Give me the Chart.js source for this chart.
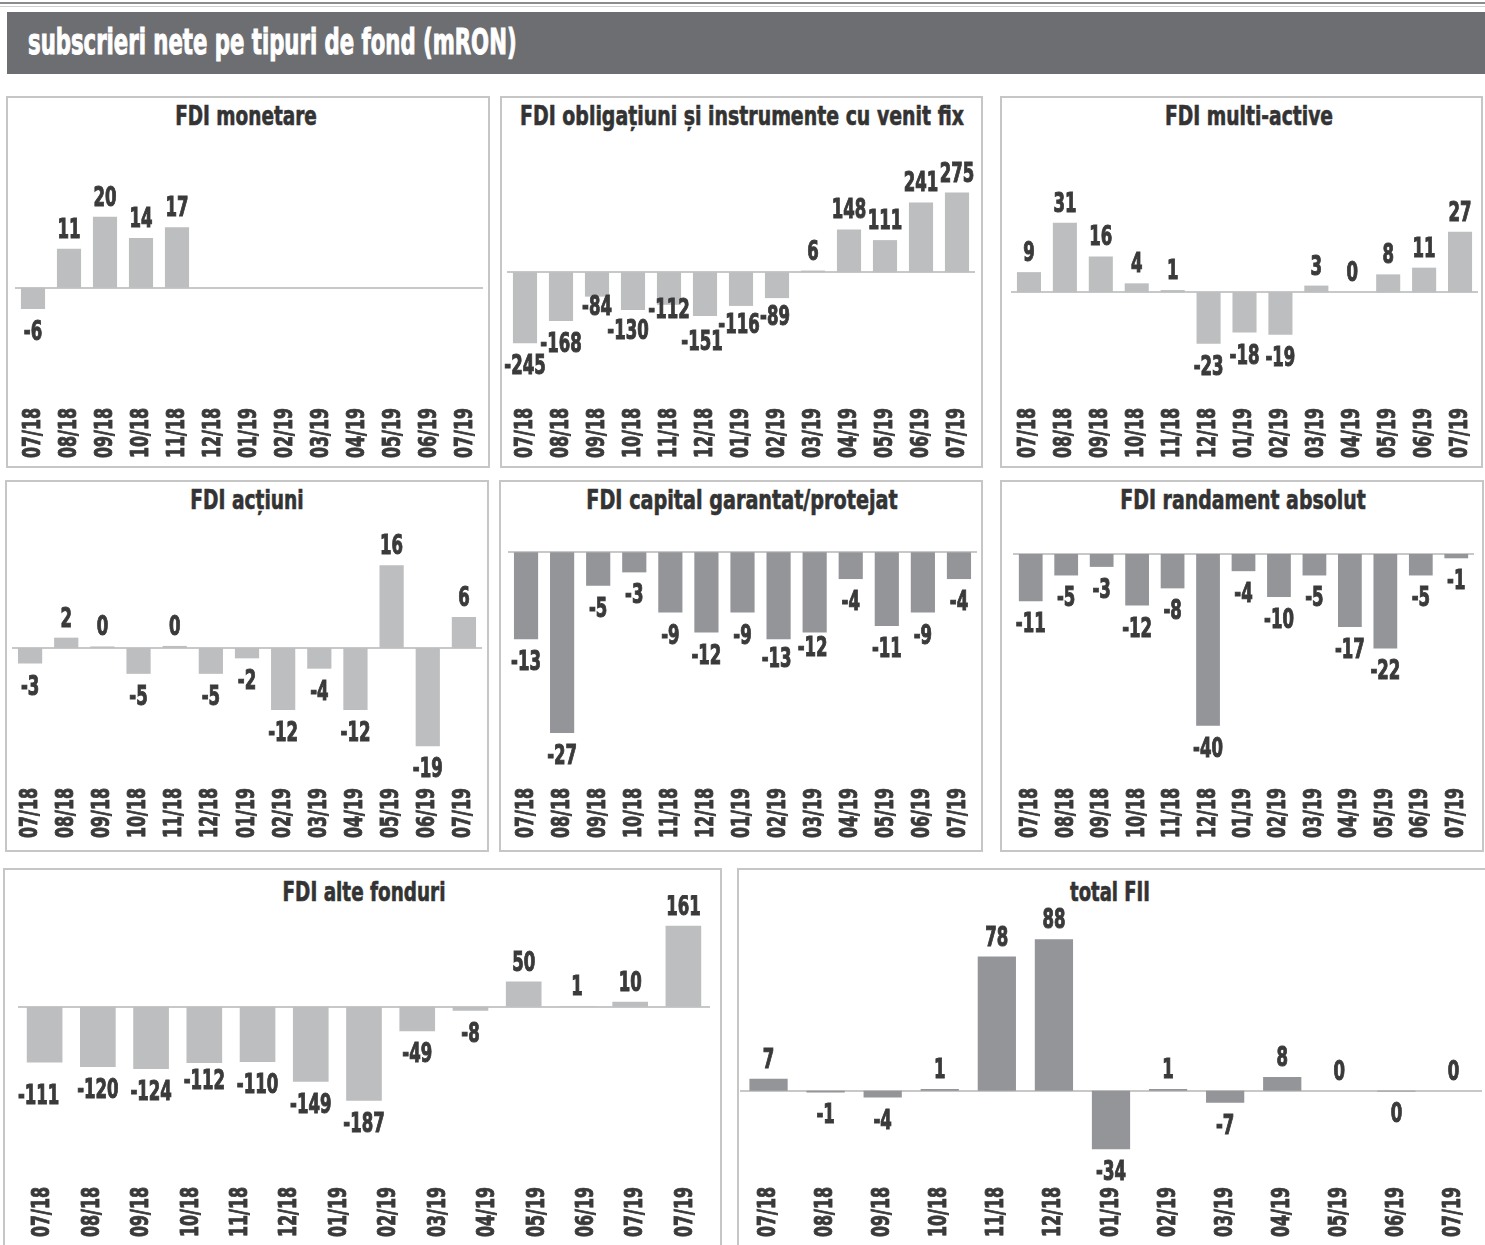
<!DOCTYPE html>
<html lang="ro">
<head>
<meta charset="utf-8">
<title>subscrieri nete pe tipuri de fond (mRON)</title>
<script src="https://cdn.jsdelivr.net/npm/chart.js@4.4.1/dist/chart.umd.min.js"></script>
<style>
    html, body { margin: 0; padding: 0; width: 1485px; height: 1245px; overflow: hidden; background: #fff; }
    body { position: relative; font-family: 'Liberation Sans Narrow', 'DejaVu Sans Condensed', 'Liberation Sans', sans-serif; }
    .rule1 { position: absolute; left: 0; width: 1485px; top: 2px; border-top: 2px solid #8c8c8c; }
    .rule2 { position: absolute; left: 0; width: 1485px; top: 6px; border-top: 1px solid #cfcfcf; }
    .band { position: absolute; left: 7px; top: 12px; width: 1478px; height: 62px; background: #6d6e71; }
    .band span {
        position: absolute; left: 21px; top: 12px;
        color: #fff; font-weight: bold; font-size: 36px; line-height: 36px;
        -webkit-text-stroke: 1px #fff;
        white-space: nowrap; transform-origin: 0 50%;
    }
    .panel { position: absolute; box-sizing: border-box; border: 2px solid #c6c6c6; background: #fff; }
    .ptitle {
        position: absolute; white-space: nowrap; font-weight: bold;
        font-size: 26px; line-height: 26px; color: #333;
        -webkit-text-stroke: 0.6px #333;
        transform-origin: 50% 50%;
    }
    canvas { position: absolute; }
</style>
</head>
<body>
<div class="rule1"></div>
<div class="rule2"></div>
<div class="band"><span id="headline">subscrieri nete pe tipuri de fond (mRON)</span></div>

<script>
// ===== DATA =====
const months = ['07/18','08/18','09/18','10/18','11/18','12/18','01/19','02/19','03/19','04/19','05/19','06/19','07/19'];
// the "alte fonduri" panel in the source prints 07/19 twice under 13 bars
const monthsAlte = ['07/18','08/18','09/18','10/18','11/18','12/18','01/19','02/19','03/19','04/19','05/19','06/19','07/19','07/19'];

const fdiMonetare    = [-6, 11, 20, 14, 17, null, null, null, null, null, null, null, null];
const fdiObligatiuni = [-245, -168, -84, -130, -112, -151, -116, -89, 6, 148, 111, 241, 275];
const fdiMultiActive = [9, 31, 16, 4, 1, -23, -18, -19, 3, 0, 8, 11, 27];
const fdiActiuni     = [-3, 2, 0.3, -5, 0.4, -5, -2, -12, -4, -12, 16, -19, 6];
const fdiCapital     = [-13, -27, -5, -3, -9, -12, -9, -13, -12, -4, -11, -9, -4];
const fdiRandament   = [-11, -5, -3, -12, -8, -40, -4, -10, -5, -17, -22, -5, -1];
const fdiAlte        = [-111, -120, -124, -112, -110, -149, -187, -49, -8, 50, 1, 10, 161];
const totalFii       = [7, -1, -4, 1, 78, 88, -34, 1, -7, 8, 0, -0.4, 0];

// ===== STYLE =====
const FONT = "'Liberation Sans Narrow', 'DejaVu Sans Condensed', 'Liberation Sans', sans-serif";
const LIGHT = '#bcbec0';
const DARK  = '#939598';
const INK   = '#3a3a3a';
const TICK_PAD = 4;
const AXIS_H = 60;
const SIDE = 14;          // extra canvas room left/right for labels
const TICK_LEN = 50;      // length of a rotated "07/18" in the source
const VAL_2DIGIT = 23;    // width of a two digit value label in the source

// ===== PANELS (layout in page pixels) =====
// nudge: per bar index [dx, dy] for value labels that were moved by hand in the source
const panels = [
    { title: 'FDI monetare', titleX: 246, titleY: 116, titleW: 142,
      box: [6, 96, 490, 468], plotL: 15, plotR: 483, canvasTop: 140, labelTop: 408,
      zeroY: 287.7, ppu: 3.55, values: fdiMonetare, ticks: months, color: LIGHT },
    { title: 'FDI obligațiuni și instrumente cu venit fix', titleX: 741.5, titleY: 116, titleW: 444,
      box: [500, 96, 983, 468], plotL: 507, plotR: 975, canvasTop: 140, labelTop: 408,
      zeroY: 272.3, ppu: 0.29, values: fdiObligatiuni, ticks: months, color: LIGHT,
      nudge: { 2: [0, -13], 3: [-5, -2], 4: [0, -18], 5: [-3, 3], 6: [-2, -4], 7: [-2, -4] } },
    { title: 'FDI multi-active', titleX: 1249, titleY: 116, titleW: 168,
      box: [1000, 96, 1483, 468], plotL: 1011, plotR: 1478, canvasTop: 140, labelTop: 408,
      zeroY: 292.3, ppu: 2.24, values: fdiMultiActive, ticks: months, color: LIGHT },
    { title: 'FDI acțiuni', titleX: 246.5, titleY: 500, titleW: 113,
      box: [5, 480, 489, 852], plotL: 12, plotR: 482, canvasTop: 522, labelTop: 788,
      zeroY: 648, ppu: 5.17, values: fdiActiuni, ticks: months, color: LIGHT },
    { title: 'FDI capital garantat/protejat', titleX: 742, titleY: 500, titleW: 311,
      box: [499, 480, 983, 852], plotL: 508, plotR: 977, canvasTop: 522, labelTop: 788,
      zeroY: 552.3, ppu: 6.69, values: fdiCapital, ticks: months, color: DARK,
      nudge: { 7: [-2, -3], 8: [-2, -8] } },
    { title: 'FDI randament absolut', titleX: 1242.5, titleY: 500, titleW: 245,
      box: [1000, 480, 1484, 852], plotL: 1013, plotR: 1474, canvasTop: 522, labelTop: 788,
      zeroY: 554, ppu: 4.295, values: fdiRandament, ticks: months, color: DARK },
    { title: 'FDI alte fonduri', titleX: 363.5, titleY: 892, titleW: 163,
      box: [3, 868, 722, 1260], plotL: 18, plotR: 710, canvasTop: 895, labelTop: 1187,
      zeroY: 1006.7, ppu: 0.503, values: fdiAlte, ticks: monthsAlte, color: LIGHT,
      nudge: { 0: [-6, 10], 3: [0, -5] } },
    { title: 'total FII', titleX: 1110, titleY: 892, titleW: 80,
      box: [737, 868, 1500, 1260], plotL: 740, plotR: 1482, canvasTop: 905, labelTop: 1187,
      zeroY: 1090.7, ppu: 1.72, values: totalFii, ticks: months, color: DARK }
];

// ===== PLUGINS =====
const zeroLine = {
    id: 'zeroLine',
    beforeDatasetsDraw(chart) {
        const { ctx, chartArea, scales: { y } } = chart;
        const py = Math.round(y.getPixelForValue(0));
        ctx.save();
        ctx.strokeStyle = '#c8c8c8';
        ctx.lineWidth = 2;
        ctx.beginPath();
        ctx.moveTo(chartArea.left, py);
        ctx.lineTo(chartArea.right, py);
        ctx.stroke();
        ctx.restore();
    }
};

// value labels, squeezed to mimic the condensed face of the source
const valueLabels = {
    id: 'valueLabels',
    afterDatasetsDraw(chart, args, opts) {
        const { ctx } = chart;
        const data = chart.data.datasets[0].data;
        const nudge = opts.nudge || {};
        ctx.save();
        ctx.font = 'bold 26px ' + FONT;
        const k = Math.min(1, VAL_2DIGIT / ctx.measureText('20').width);
        ctx.fillStyle = INK;
        ctx.strokeStyle = INK;
        ctx.lineWidth = 1;
        ctx.textAlign = 'center';
        ctx.textBaseline = 'alphabetic';
        chart.getDatasetMeta(0).data.forEach((bar, i) => {
            const v = data[i];
            if (v === null || v === undefined) return;
            const txt = String(Math.round(v));
            const [dx, dy] = nudge[i] || [0, 0];
            const y = (v >= 0 ? bar.y - 11 : bar.y + 31) + dy;
            ctx.save();
            ctx.translate(bar.x + dx, y);
            ctx.scale(k, 1);
            ctx.fillText(txt, 0, 0);
            ctx.strokeText(txt, 0, 0);
            ctx.restore();
        });
        ctx.restore();
    }
};

// month labels of the xLab axis, rotated and squeezed along their length
const tickLabels = {
    id: 'tickLabels',
    afterDraw(chart) {
        const { ctx } = chart;
        const s = chart.scales.xLab;
        ctx.save();
        ctx.font = 'bold 25px ' + FONT;
        const k = Math.min(1, TICK_LEN / ctx.measureText('07/18').width);
        ctx.fillStyle = INK;
        ctx.strokeStyle = INK;
        ctx.lineWidth = 0.9;
        ctx.textAlign = 'right';
        ctx.textBaseline = 'middle';
        s.ticks.forEach((t, i) => {
            ctx.save();
            ctx.translate(s.getPixelForTick(i), s.top + TICK_PAD);
            ctx.rotate(-Math.PI / 2);
            ctx.scale(k, 1);
            ctx.fillText(t.label, 0, 0);
            ctx.strokeText(t.label, 0, 0);
            ctx.restore();
        });
        ctx.restore();
    }
};

// ===== BUILD =====
function addTitle(p) {
    const t = document.createElement('div');
    t.className = 'ptitle';
    t.textContent = p.title;
    t.style.left = p.titleX + 'px';
    t.style.top = (p.titleY - 12.6) + 'px';
    document.body.appendChild(t);
    const s = p.titleW / t.offsetWidth;
    t.style.transform = 'translateX(-50%) scaleX(' + s.toFixed(3) + ')';
}

function drawPanel(p) {
    const box = document.createElement('div');
    box.className = 'panel';
    box.style.left = p.box[0] + 'px';
    box.style.top = p.box[1] + 'px';
    box.style.width = (p.box[2] - p.box[0]) + 'px';
    box.style.height = (p.box[3] - p.box[1]) + 'px';
    document.body.appendChild(box);

    addTitle(p);

    const chartBottom = p.labelTop - TICK_PAD;
    const w = p.plotR - p.plotL + 2 * SIDE;
    const h = chartBottom + AXIS_H - p.canvasTop;
    const cv = document.createElement('canvas');
    cv.width = w;
    cv.height = h;
    cv.style.left = (p.plotL - SIDE) + 'px';
    cv.style.top = p.canvasTop + 'px';
    cv.style.width = w + 'px';
    cv.style.height = h + 'px';
    document.body.appendChild(cv);

    new Chart(cv, {
        type: 'bar',
        data: {
            labels: months,
            datasets: [{
                data: p.values,
                backgroundColor: p.color,
                borderWidth: 0,
                barPercentage: 0.67,
                categoryPercentage: 1,
                xAxisID: 'x',
                yAxisID: 'y'
            }]
        },
        options: {
            responsive: false,
            animation: false,
            devicePixelRatio: 1,
            layout: { padding: { left: SIDE, right: SIDE, top: 0, bottom: 0 } },
            plugins: {
                legend: { display: false },
                tooltip: { enabled: false },
                title: { display: false },
                valueLabels: { nudge: p.nudge || {} }
            },
            scales: {
                x: { display: false, offset: true },
                xLab: {
                    axis: 'x',
                    type: 'category',
                    labels: p.ticks,
                    position: 'bottom',
                    offset: true,
                    grid: { display: false, drawTicks: false },
                    border: { display: false },
                    ticks: { display: false, autoSkip: false },
                    afterFit: s => { s.height = AXIS_H; s.paddingLeft = 0; s.paddingRight = 0; }
                },
                y: {
                    display: false,
                    min: -(chartBottom - p.zeroY) / p.ppu,
                    max: (p.zeroY - p.canvasTop) / p.ppu
                }
            }
        },
        plugins: [zeroLine, valueLabels, tickLabels]
    });
}

panels.forEach(drawPanel);

// squeeze the headline to the width it has in the source
const head = document.getElementById('headline');
head.style.transform = 'scaleX(' + (489 / head.offsetWidth).toFixed(3) + ')';
</script>
</body>
</html>
